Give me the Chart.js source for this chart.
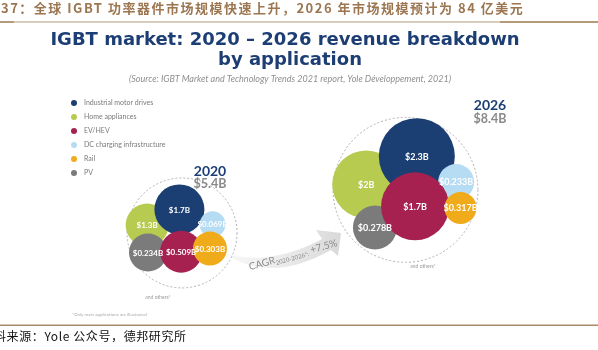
<!DOCTYPE html>
<html>
<head>
<meta charset="utf-8">
<script src="https://cdn.jsdelivr.net/npm/chart.js@4"></script>
<style>
    html, body { margin: 0; padding: 0; background: #fff; }
    #wrap { width: 598px; height: 350px; position: relative; }
</style>
</head>
<body>
<div id="wrap"><canvas id="bubbleChart"></canvas></div>
<script>
// ---- data ----
const categories = ["Industrial motor drives", "Home appliances", "EV/HEV", "DC charging infrastructure", "Rail", "PV"];
const years = ["2020", "2026"];
const totals = ["$5.4B", "$8.4B"];
const values2020 = [1.7, 1.3, 0.509, 0.069, 0.303, 0.234];
const values2026 = [2.3, 2, 1.7, 0.233, 0.317, 0.278];
const cagrLabel = "+7.5%";
const cagrPeriod = "2020-2026*";

// ---- styles / layout (layout units == canvas px) ----
const colors = ["#1b3f73", "#b6cb4f", "#a6214f", "#b6dcf3", "#f0ab1a", "#7b7b7b"];
const drawOrder = [5, 6, 2, 4, 1, 3]; // lower = drawn on top
const clusters = [
    { cx: 165, cy: 249, r: 63, font: 8 },
    { cx: 421, cy: 194, r: 83, font: 9 }
];
// offset from cluster centre and bubble radius, per category
const layout2020 = [[-3, -30, 25], [-40, -10, 21.5], [-1, 24, 21], [35, -11, 13], [32, 20, 17], [-39, 25, 19]];
const layout2026 = [[13, -43, 38], [-45, -7, 34], [11, 21, 34], [58, -10, 18], [63, 23, 16], [-35, 48, 22]];

const valuesByYear = [values2020, values2026];
const layoutByYear = [layout2020, layout2026];

const EN = "Lato, 'Open Sans', sans-serif";
const TITLE = "'DejaVu Sans', sans-serif";
const CN = "'Noto Sans CJK SC', sans-serif";

function money(v) { return "$" + v + "B"; }

const datasets = categories.map((name, i) => ({
    label: name,
    order: drawOrder[i],
    backgroundColor: colors[i],
    borderWidth: 0,
    hoverBackgroundColor: colors[i],
    data: years.map((y, k) => {
        const c = clusters[k];
        const l = layoutByYear[k][i];
        return { x: c.cx + l[0], y: c.cy + l[1], r: l[2], v: valuesByYear[k][i] };
    })
}));

function txt(ctx, s, x, y, font, color, align, base) {
    ctx.font = font;
    ctx.fillStyle = color;
    ctx.textAlign = align || "left";
    ctx.textBaseline = base || "middle";
    ctx.fillText(s, x, y);
}

const decor = {
    id: "decor",
    beforeDatasetsDraw(chart) {
        const ctx = chart.ctx;
        const xs = chart.scales.x, ys = chart.scales.y;
        ctx.save();
        // dashed cluster outlines
        clusters.forEach(c => {
            const px = xs.getPixelForValue(c.cx), py = ys.getPixelForValue(c.cy);
            const pr = xs.getPixelForValue(c.cx + c.r) - px;
            ctx.beginPath();
            ctx.setLineDash([2, 2]);
            ctx.strokeStyle = "#b0b0b0";
            ctx.lineWidth = 1;
            ctx.arc(px, py, pr, 0, Math.PI * 2);
            ctx.stroke();
        });
        ctx.setLineDash([]);

        // growth arrow
        const g = ctx.createLinearGradient(228, 0, 341, 0);
        g.addColorStop(0, "rgba(228,228,228,0.3)");
        g.addColorStop(1, "#d9d9d9");
        ctx.fillStyle = g;
        ctx.beginPath();
        ctx.moveTo(226, 254);
        ctx.quadraticCurveTo(270, 284, 331, 250);
        ctx.lineTo(338, 256);
        ctx.lineTo(341, 233);
        ctx.lineTo(316, 230);
        ctx.lineTo(322, 239);
        ctx.quadraticCurveTo(272, 266, 226, 254);
        ctx.fill();

        // CAGR text along the arrow
        ctx.translate(294, 258);
        ctx.rotate(-0.27);
        ctx.font = "10px " + EN;
        const w1 = ctx.measureText("CAGR").width;
        ctx.font = "6px " + EN;
        const w2 = ctx.measureText(cagrPeriod + ":").width;
        ctx.font = "10px " + EN;
        const w3 = ctx.measureText(" " + cagrLabel).width;
        let x0 = -(w1 + w2 + w3) / 2;
        txt(ctx, "CAGR", x0, 0, "10px " + EN, "#8c8c8c", "left", "alphabetic");
        txt(ctx, cagrPeriod + ":", x0 + w1, 2, "6px " + EN, "#8c8c8c", "left", "alphabetic");
        txt(ctx, " " + cagrLabel, x0 + w1 + w2, 0, "10px " + EN, "#8c8c8c", "left", "alphabetic");
        ctx.restore();
    },
    afterDatasetsDraw(chart) {
        const ctx = chart.ctx;
        ctx.save();
        // values inside bubbles
        chart.data.datasets.forEach((ds, i) => {
            const meta = chart.getDatasetMeta(i);
            meta.data.forEach((pt, k) => {
                txt(ctx, money(ds.data[k].v), pt.x, pt.y + 0.5, "bold " + clusters[k].font + "px " + EN, "#ffffff", "center");
            });
        });

        // header
        ctx.letterSpacing = "1.5px";
        txt(ctx, "37：全球 IGBT 功率器件市场规模快速上升，2026 年市场规模预计为 84 亿美元", 1, 8, "bold 13px " + CN, "#9c7651");
        ctx.letterSpacing = "0px";
        ctx.fillStyle = "#b59a7c";
        ctx.fillRect(0, 21.5, 598, 1);
        ctx.fillRect(0, 21, 14, 2);
        ctx.fillRect(500, 21, 98, 2);

        // title
        txt(ctx, "IGBT market: 2020 – 2026 revenue breakdown", 285, 45, "bold 18px " + TITLE, "#1d3e74", "center", "alphabetic");
        txt(ctx, "by application", 290, 65, "bold 18px " + TITLE, "#1d3e74", "center", "alphabetic");
        txt(ctx, "(Source: IGBT Market and Technology Trends 2021 report, Yole Développement, 2021)", 290, 82, "italic 9px " + EN, "#8f8f8f", "center", "alphabetic");

        // legend
        categories.forEach((name, i) => {
            const y = 103 + i * 14;
            ctx.beginPath();
            ctx.fillStyle = colors[i];
            ctx.arc(74, y, 3, 0, Math.PI * 2);
            ctx.fill();
            txt(ctx, name, 84, y, "7px " + EN, "#7a7a7a");
        });

        // year totals
        txt(ctx, years[0], 210, 176, "bold 14px " + EN, "#1d3e74", "center", "alphabetic");
        txt(ctx, totals[0], 210, 187.5, "bold 12.5px " + EN, "#8a8a8a", "center", "alphabetic");
        txt(ctx, years[1], 490, 110, "bold 14px " + EN, "#1d3e74", "center", "alphabetic");
        txt(ctx, totals[1], 490, 122.5, "bold 12.5px " + EN, "#8a8a8a", "center", "alphabetic");

        txt(ctx, "and others*", 158, 297, "5px " + EN, "#9a9a9a", "center");
        txt(ctx, "and others*", 423, 266, "5px " + EN, "#9a9a9a", "center");
        txt(ctx, "*Only main applications are illustrated", 72, 315, "4.5px " + EN, "#aaaaaa");

        // footer
        ctx.fillStyle = "#a88a6a";
        ctx.fillRect(0, 324.5, 598, 1.5);
        ctx.letterSpacing = "0.6px";
        txt(ctx, "料来源：Yole 公众号，德邦研究所", -6, 336, "12px " + CN, "#111111");
        ctx.letterSpacing = "0px";
        ctx.restore();
    }
};

new Chart(document.getElementById("bubbleChart"), {
    type: "bubble",
    data: { datasets: datasets },
    options: {
        responsive: true,
        maintainAspectRatio: false,
        animation: false,
        layout: { padding: 0 },
        plugins: { legend: { display: false }, tooltip: { enabled: false } },
        scales: {
            x: { display: false, min: 0, max: 598 },
            y: { display: false, min: 0, max: 350, reverse: true }
        }
    },
    plugins: [decor]
});
</script>
</body>
</html>
